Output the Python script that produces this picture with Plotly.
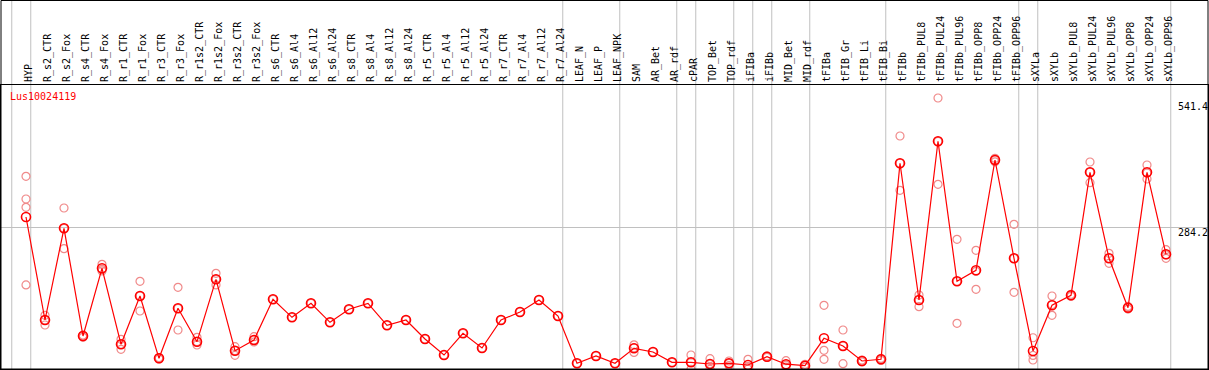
import plotly.graph_objects as go

samples = ["HYP", "R_s2_CTR", "R_s2_Fox", "R_s4_CTR", "R_s4_Fox", "R_r1_CTR", "R_r1_Fox",
           "R_r3_CTR", "R_r3_Fox", "R_r1s2_CTR", "R_r1s2_Fox", "R_r3s2_CTR", "R_r3s2_Fox",
           "R_s6_CTR", "R_s6_Al4", "R_s6_Al12", "R_s6_Al24", "R_s8_CTR", "R_s8_Al4", "R_s8_Al12",
           "R_s8_Al24", "R_r5_CTR", "R_r5_Al4", "R_r5_Al12", "R_r5_Al24", "R_r7_CTR", "R_r7_Al4",
           "R_r7_Al12", "R_r7_Al24", "LEAF_N", "LEAF_P", "LEAF_NPK", "SAM", "AR_Bet", "AR_rdf",
           "cPAR", "TOP_Bet", "TOP_rdf", "iFIBa", "iFIBb", "MID_Bet", "MID_rdf", "tFIBa",
           "tFIB_Gr", "tFIB_Li", "tFIB_Bi", "tFIBb", "tFIBb_PUL8", "tFIBb_PUL24", "tFIBb_PUL96",
           "tFIBb_OPP8", "tFIBb_OPP24", "tFIBb_OPP96", "sXYLa", "sXYLb", "sXYLb_PUL8",
           "sXYLb_PUL24", "sXYLb_PUL96", "sXYLb_OPP8", "sXYLb_OPP24", "sXYLb_OPP96"]

means = [305.9, 102.1, 283.5, 70.4, 204.4, 54.0, 149.6, 26.3, 125.2, 59.2, 182.6, 41.4, 62.5,
         143.1, 107.4, 135.1, 97.5, 123.3, 135.1, 91.6, 102.1, 64.5, 32.8, 75.8, 46.7, 102.1,
         117.9, 141.7, 110.0, 16.4, 30.9, 16.4, 46.1, 38.8, 18.4, 18.4, 15.0, 16.4, 13.1, 29.5,
         14.6, 11.7, 65.9, 50.7, 21.0, 24.3, 412.2, 141.7, 455.7, 178.7, 200.4, 418.7, 224.2,
         40.8, 131.2, 151.0, 394.3, 224.2, 126.4, 394.3, 232.1]

replicates = [
    [386.4, 341.5, 325.1, 171.4], [111.4, 102.1, 92.2], [323.7, 283.5, 243.2], [72.4, 70.4, 67.9],
    [212.3, 202.4, 199.1], [63.9, 54.0, 44.1], [178.7, 149.6, 119.9], [27.9, 26.3, 24.9],
    [166.8, 125.2, 82.3], [67.9, 59.2, 52.6], [194.5, 182.6, 171.4], [49.3, 41.4, 32.3],
    [69.1, 62.5, 58.6], [143.1], [107.4], [135.1], [97.5], [123.3], [135.1], [91.6], [102.1],
    [64.5], [32.8], [75.8], [46.7], [102.1], [117.9], [141.7], [110.0], [16.4], [30.9], [16.4],
    [53.0, 47.0, 38.0], [38.8], [18.4], [32.8, 18.4, 4.5], [25.5, 15.0, 4.5], [21.0, 16.4, 12.0],
    [24.3, 10.0, 5.0], [31.0, 29.5, 28.0], [21.6, 13.0, 9.0], [14.4, 11.7, 9.0],
    [131.2, 42.1, 24.3], [82.3, 50.7, 15.6], [23.0, 21.0, 19.0], [26.0, 24.3, 22.0],
    [466.2, 412.2, 358.7], [151.6, 141.7, 128.4], [541.4, 455.7, 370.6], [261.8, 178.7, 95.6],
    [240.0, 198.4, 162.8], [422.0, 418.7, 415.0], [291.5, 224.2, 156.9], [67.0, 32.0, 23.0],
    [149.6, 132.6, 111.4], [153.0, 151.0, 149.0], [414.7, 394.4, 373.8], [234.0, 224.2, 214.3],
    [129.0, 126.4, 123.8], [408.8, 393.0, 381.1], [241.2, 231.0, 224.2]]

# group separators: drawn just after these sample indices
separators_after = [-1, 0, 28, 31, 34, 35, 37, 38, 39, 41, 45, 52, 53, 60]
gene = "Lus10024119"
y_label_values = [541.4, 284.2, 0]
y_label_texts = ["541.4", "284.2", "0"]
grid_values = [284.2]

FONT = "DejaVu Sans Mono"
W, H = 1209, 370
ML, MR, MT, MB = 1, 1, 85, 1
plot_h = H - MT - MB
plot_w = W - ML - MR

xi = list(range(len(samples)))
rx, ry = [], []
for i, reps in enumerate(replicates):
    for v in reps:
        rx.append(i)
        ry.append(v)

fig = go.Figure()
fig.add_trace(go.Scatter(x=rx, y=ry, mode="markers",
                         marker=dict(symbol="circle-open", size=8, color="#f08a8a",
                                     line=dict(width=1.2, color="#f08a8a")),
                         showlegend=False, hoverinfo="y"))
fig.add_trace(go.Scatter(x=xi, y=means, mode="lines+markers",
                         line=dict(color="#ff0000", width=1.2),
                         marker=dict(symbol="circle-open", size=9, color="#ff0000",
                                     line=dict(width=1.6, color="#ff0000")),
                         showlegend=False, hoverinfo="x+y"))

top_paper = (plot_h + MT - 0.5) / plot_h
shapes = []
for s in separators_after:
    shapes.append(dict(type="line", xref="x", yref="paper", x0=s + 0.25, x1=s + 0.25,
                       y0=0, y1=top_paper, line=dict(color="#c0c0c0", width=1), layer="below"))
shapes.append(dict(type="rect", xref="paper", yref="paper", x0=0, x1=1, y0=0, y1=top_paper,
                   line=dict(color="black", width=1)))

annotations = [dict(text=gene, xref="paper", yref="paper", x=7 / plot_w,
                    y=(H - MB - 96.7) / plot_h, xanchor="left", yanchor="middle",
                    showarrow=False, font=dict(family=FONT, size=10, color="#ff0000"))]
shifts = [-9, -4.5, 9]
for v, t, sh in zip(y_label_values, y_label_texts, shifts):
    annotations.append(dict(text=t, xref="paper", yref="y", x=(1176 - ML) / plot_w, y=v,
                            xanchor="left", yanchor="middle", yshift=sh, showarrow=False,
                            font=dict(family=FONT, size=10, color="black")))

px_per_unit = 0.5054
y_zero_px = 371.6
y_bottom = (y_zero_px - (H - MB)) / px_per_unit
y_top = (y_zero_px - MT) / px_per_unit

fig.update_layout(
    width=W, height=H, margin=dict(l=ML, r=MR, t=MT, b=MB, pad=0, autoexpand=False),
    paper_bgcolor="white", plot_bgcolor="white",
    font=dict(family=FONT, size=10, color="black"),
    xaxis=dict(range=[(ML - 26) / 19, (W - MR - 26) / 19], side="top", tickmode="array",
               tickvals=xi, ticktext=samples, tickangle=-90, showgrid=False, zeroline=False,
               showline=True, linecolor="black", linewidth=1, mirror=True, ticks="",
               ticklabelstandoff=0, ticklabelshift=3,
               tickfont=dict(family=FONT, size=10, color="black"), automargin=False),
    yaxis=dict(range=[y_bottom, y_top], tickmode="array", tickvals=grid_values,
               showticklabels=False, showgrid=True, gridcolor="#c0c0c0", gridwidth=1,
               zeroline=False, showline=True, linecolor="black", linewidth=1, mirror=True,
               ticks="", automargin=False),
    shapes=shapes, annotations=annotations,
)

fig.write_html("out.html", config={"displayModeBar": False},
               post_script="document.body.style.margin='0';document.body.style.overflow='hidden';")
